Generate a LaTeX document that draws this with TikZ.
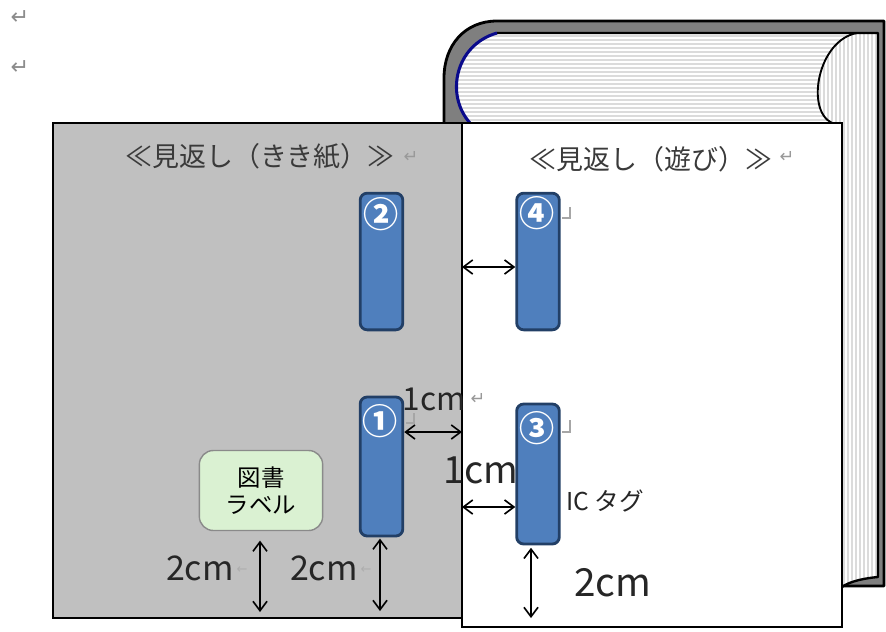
\documentclass[tikz,border=0pt]{standalone}
\usepackage{fontspec}
\newfontfamily\jpfont{Noto Sans CJK JP}
\newfontfamily\symfont{DejaVu Sans}
\usetikzlibrary{arrows.meta}

\definecolor{coverGray}{HTML}{7F7F7F}
\definecolor{spineBlue}{HTML}{0A0A8C}
\definecolor{pageGray}{HTML}{C0C0C0}
\definecolor{tagFill}{HTML}{4F7FBD}
\definecolor{tagEdge}{HTML}{223F66}
\definecolor{labelFill}{HTML}{DAF1D2}
\definecolor{labelEdge}{HTML}{8A8A8A}
\definecolor{titleText}{HTML}{3A3A3A}

\begin{document}
\begin{tikzpicture}[x=0.03cm,y=-0.03cm,
  pageline/.style={draw=black,line width=2.4pt},
  stripe/.style={draw=black!14,line width=1.4pt},
  tagbox/.style={draw=tagEdge,fill=tagFill,line width=2.4pt,rounded corners=6pt,
    minimum width=1.28cm,inner sep=0pt},
  tagnum/.style={text=white,font=\jpfont\bfseries\fontsize{30}{30}\selectfont,inner sep=0pt},
  labelbox/.style={draw=labelEdge,fill=labelFill,line width=1.2pt,rounded corners=12pt,
    minimum width=3.7cm,minimum height=2.4cm,align=center,
    font=\jpfont\fontsize{20}{23}\selectfont},
  dim/.style={draw=black,line width=1.4pt,
    {Straight Barb[length=8pt,width=12pt]}-{Straight Barb[length=8pt,width=12pt]}},
  title/.style={text=titleText,font=\jpfont\fontsize{23}{26}\selectfont,inner sep=0pt},
  retmark/.style={text=black!40,font=\symfont\fontsize{15}{15}\selectfont,inner sep=0pt},
  smallarrow/.style={text=black!32,font=\symfont\fontsize{11}{11}\selectfont,inner sep=0pt,anchor=west},
  fmtmark/.style={draw=black!35,line width=0.9pt},
  cmtext/.style={text=black!85,inner sep=0pt}]

\useasboundingbox (0,0) rectangle (886,631);

% ---- book behind the flyleaves ----
% cover
\fill[coverGray] (444,124) -- (444,78) .. controls (444,45) and (465,21) .. (497,21)
  -- (884,21) -- (884,586) -- (842,586) -- (842,124) -- cycle;
% page block
\fill[white] (497,33) -- (878,33) -- (878,577) .. controls (866,578) and (850,581) .. (842,587)
  -- (842,123) -- (470,123) .. controls (445,95) and (455,45) .. (497,33) -- cycle;
% top edges of the leaves
\begin{scope}
  \clip (497,33) -- (857,33) .. controls (818,40) and (805,110) .. (832,123)
    -- (470,123) .. controls (445,95) and (455,45) .. (497,33) -- cycle;
  \foreach \y in {36,40,...,124} \draw[stripe] (440,\y) -- (880,\y);
\end{scope}
% fore edges of the leaves
\begin{scope}
  \clip (857,33) .. controls (818,40) and (805,110) .. (832,123) -- (842,123)
    -- (842,587) .. controls (850,581) and (866,578) .. (878,577) -- (878,33) -- cycle;
  \foreach \x in {812,816,...,880} \draw[stripe] (\x,30) -- (\x,595);
\end{scope}
% outlines of the book
\draw[black,line width=2.4pt,line join=round] (444,124) -- (444,78)
  .. controls (444,45) and (465,21) .. (497,21) -- (884,21) -- (884,586) -- (842,586);
\draw[black,line width=2pt,line join=round] (497,33) -- (878,33) -- (878,577)
  .. controls (866,578) and (850,581) .. (842,587);
\draw[black,line width=1.6pt] (857,33) .. controls (818,40) and (805,110) .. (832,123);
\draw[spineBlue,line width=2.6pt] (497,33) .. controls (455,45) and (445,95) .. (470,123);

% ---- flyleaves ----
\draw[pageline,fill=white] (462,123) rectangle (842,627);
\draw[pageline,fill=pageGray] (53,123) rectangle (462,618);

% page edge reference points
\coordinate (e4) at (462,267);
\coordinate (e1) at (462,432);
\coordinate (e3) at (462,507);
\coordinate (b0) at (260,612);
\coordinate (b1) at (380,611);
\coordinate (b3) at (531,618);

% ---- titles ----
\node[title] (tl) at (260,156) {≪見返し（きき紙）≫};
\node[retmark] (tlr) at (411,157) {↵};
\node[title] (tr) at (651,159) {≪見返し（遊び）≫};
\node[retmark] (trr) at (787,157) {↵};
\node[retmark,text=black!45,font=\symfont\fontsize{19}{19}\selectfont] (r1) at (20,18) {↵};
\node[retmark,text=black!45,font=\symfont\fontsize{19}{19}\selectfont] (r2) at (20,68) {↵};

% ---- IC tags ----
\node[tagbox,minimum height=4.1cm] (t2) at (381.5,261.5) {};
\node[tagbox,minimum height=4.1cm] (t4) at (538,261.5) {};
\node[tagbox,minimum height=4.17cm] (t1) at (381.5,466.5) {};
\node[tagbox,minimum height=4.2cm] (t3) at (538,474) {};
\node[tagnum] (n2) at (381,214) {②};
\node[tagnum] (n4) at (537,213) {④};
\node[tagnum] (n1) at (380,421) {①};
\node[tagnum] (n3) at (537,428) {③};

% paragraph corner marks
\draw[fmtmark] (562,218) -- (570,218) -- (570,207);
\draw[fmtmark] (562,432) -- (570,432) -- (570,420);
\draw[fmtmark] (406,423) -- (414,423) -- (414,413);

% ---- book label ----
\node[labelbox] (lab) at (261,490.5) {図書\\ラベル};

% ---- distances ----
\draw[dim] (e4) -- (e4 -| t4.west);
\draw[dim] (e1 -| t1.east) -- (e1);
\draw[dim] (e3) -- (e3 -| t3.west);
\draw[dim,shorten <=8pt] (b0 |- lab.south) -- (b0);
\draw[dim,shorten <=1pt] (b1 |- t1.south) -- (b1);
\draw[dim,shorten <=2pt] (b3 |- t3.south) -- (b3);

\node[cmtext,font=\jpfont\fontsize{27}{27}\selectfont] (c1) at (434,399) {1cm};
\node[retmark] (c1r) at (478,399) {↵};
\node[cmtext,font=\jpfont\fontsize{32}{32}\selectfont] (c3) at (481,470) {1cm};
\node[cmtext,anchor=east,font=\jpfont\fontsize{29}{29}\selectfont] (c0) at (234,568) {2cm};
\node[smallarrow] (c0r) at (c0.east) [xshift=2pt,yshift=-2pt] {←};
\node[cmtext,anchor=east,font=\jpfont\fontsize{29}{29}\selectfont] (c2) at (358,568) {2cm};
\node[smallarrow] (c2r) at (c2.east) [xshift=2pt,yshift=-2pt] {←};
\node[cmtext,font=\jpfont\fontsize{33}{33}\selectfont] (c5) at (613,583) {2cm};
\node[cmtext,font=\jpfont\fontsize{21}{21}\selectfont] (ic) at (605,501) {IC タグ};

\end{tikzpicture}
\end{document}
